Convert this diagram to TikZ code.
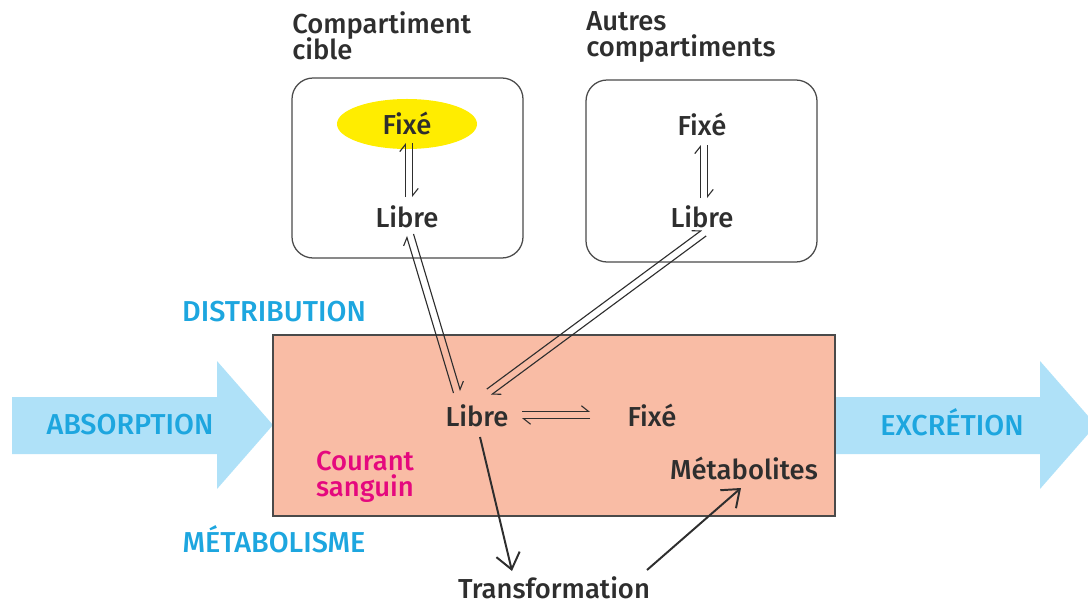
\documentclass[tikz,border=0pt]{standalone}
\usepackage{fontspec}
\setmainfont{Fira Sans}[UprightFont={* Medium}]
\usetikzlibrary{arrows.meta,calc,shapes.geometric}

\definecolor{txtgray}{HTML}{2E2E2E}
\definecolor{linegray}{HTML}{4A4A4A}
\definecolor{cyantxt}{HTML}{1DA6DF}
\definecolor{arrowblue}{HTML}{AFE1F8}
\definecolor{bloodpink}{HTML}{F9BCA5}
\definecolor{magentatxt}{HTML}{E5087E}
\definecolor{fixyellow}{HTML}{FFED00}

\setlength{\lineskiplimit}{-20pt}

% equilibrium: two offset harpoons between two coordinates
\newcommand{\equil}[2]{%
  \draw[harp] ($(#1)!2.6pt!90:(#2)$) -- ($(#2)!2.6pt!-90:(#1)$);
  \draw[harp] ($(#2)!2.6pt!90:(#1)$) -- ($(#1)!2.6pt!-90:(#2)$);
}

\begin{document}
\begin{tikzpicture}[x=0.025cm, y=-0.025cm,
  every node/.style={font=\fontsize{19.5}{18.8}\selectfont, text=txtgray, inner sep=0pt},
  compbox/.style={draw=linegray, line width=0.9pt, rounded corners=15pt},
  harp/.style={draw=txtgray, line width=0.8pt, -{Straight Barb[harpoon,length=5pt,width=8pt]}},
  thickarrow/.style={draw=txtgray, line width=1.4pt, -{Straight Barb[length=11pt,width=17pt,line width=1.4pt]}},
  bigarrow/.style={fill=arrowblue},
  phase/.style={text=cyantxt, font=\fontsize{20.5}{20}\selectfont}
]
\useasboundingbox (0,0) rectangle (1088,605);

% big blue arrows
\fill[bigarrow] (12,397) -- (217,397) -- (217,361) -- (273,425) -- (217,489) -- (217,454) -- (12,454) -- cycle;
\fill[bigarrow] (830,397) -- (1040,397) -- (1040,361) -- (1096,425) -- (1040,489) -- (1040,454) -- (830,454) -- cycle;
\node[phase] (abs) at (130,425) {ABSORPTION};
\node[phase] (exc) at (952,422) {EXCRÉTION};

% blood stream
\draw[fill=bloodpink, draw=linegray, line width=0.9pt] (273,335) rectangle (835,516);
\node[phase] (dist) at (274,312) {DISTRIBUTION};
\node[phase] (meta) at (274,539) {MÉTABOLISME};
\node[text=magentatxt, align=center] (cour) at (365,477) {Courant\\sanguin};

% compartments
\draw[compbox] (292,78) rectangle (523,258);
\draw[compbox] (586,80) rectangle (817,262);
\node[anchor=north west, align=left] (cible) at (292,11) {Compartiment\\cible};
\node[anchor=north west, align=left] (autres) at (586,11) {Autres\\compartiments};

\node[ellipse, fill=fixyellow, minimum width=3.5cm, minimum height=1.25cm] (ell) at (407,124) {};
\node (fixA) at (407,123) {Fixé};
\node (libA) at (407,217) {Libre};
\node (fixB) at (702,124) {Fixé};
\node (libB) at (702,217) {Libre};

\node (libS) at (477,416) {Libre};
\node (fixS) at (652,415) {Fixé};
\node (metab) at (744,468) {Métabolites};
\node (transf) at (554,588) {Transformation};

% equilibrium ends
\coordinate (a1) at (409,197); \coordinate (a2) at (409,143);
\coordinate (b1) at (704,198); \coordinate (b2) at (704,145);
\coordinate (s1) at (522,415); \coordinate (s2) at (590,415);
\coordinate (d1) at (457,392); \coordinate (d2) at (410,235);
\coordinate (e1) at (489,392); \coordinate (e2) at (704,233);

\equil{a1}{a2}
\equil{b1}{b2}
\equil{s1}{s2}
\equil{d1}{d2}
\equil{e1}{e2}

% metabolism
\coordinate (t1) at (480,437); \coordinate (t2) at (512,571);
\coordinate (m1) at (647,570); \coordinate (m2) at (741,488);
\draw[thickarrow] (t1) -- (t2);
\draw[thickarrow] (m1) -- (m2);
\end{tikzpicture}
\end{document}
